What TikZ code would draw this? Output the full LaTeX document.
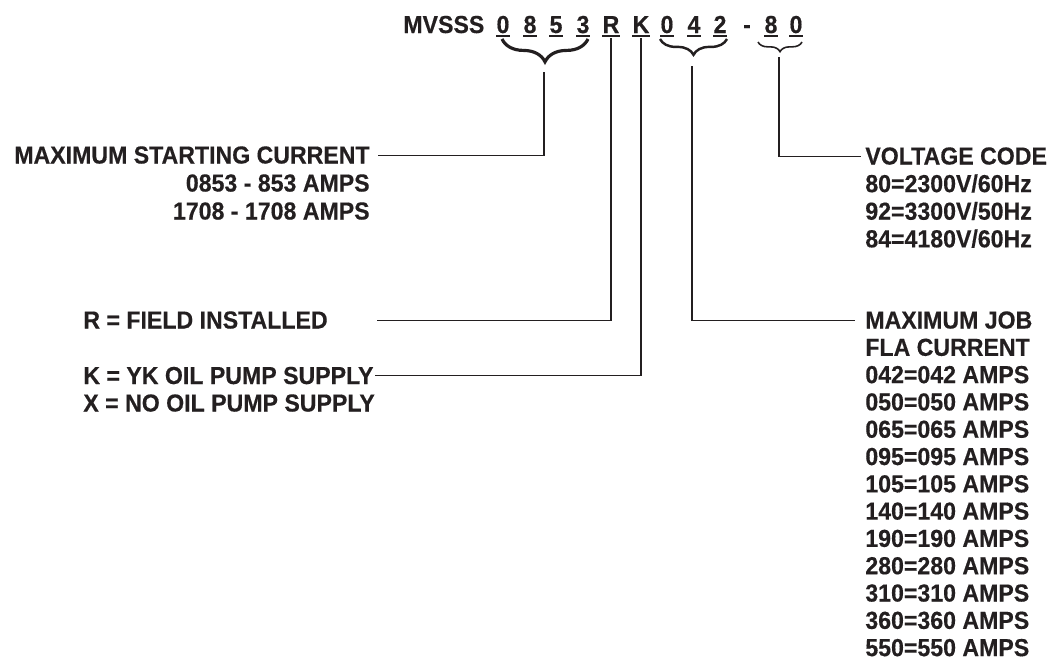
\documentclass[tikz,border=0pt]{standalone}
\usepackage{fontspec}
\setmainfont{Liberation Sans}[FakeStretch=0.94,BoldFeatures={FakeBold=0.4}]
\usetikzlibrary{decorations.pathreplacing}
\definecolor{ink}{HTML}{231F20}
\tikzstyle{lbl}=[inner sep=0pt,text=ink,font=\fontsize{14pt}{16pt}\selectfont\bfseries]
\tikzstyle{digit}=[lbl,anchor=base]
\tikzstyle{uline}=[draw=ink,line width=1.1pt]
\tikzstyle{conn}=[draw=ink,line width=0.6pt]
\tikzstyle{bigbrace}=[draw=ink,line width=1.8pt,decorate,decoration={brace,amplitude=13pt}]
\tikzstyle{midbrace}=[draw=ink,line width=1.4pt,decorate,decoration={brace,amplitude=9pt}]
\tikzstyle{smallbrace}=[draw=ink,line width=0.9pt,decorate,decoration={brace,amplitude=5.5pt}]

\begin{document}
\begin{tikzpicture}[x=0.02cm,y=-0.02cm]
    \useasboundingbox (0,0) rectangle (1050,660);
    % Model number, one node for each code character
    \node[digit,anchor=base west] (model) at (403,33) {MVSSS};
    \foreach \pos/\name/\ch in {503/d1/0, 530/d2/8, 556/d3/5, 583/d4/3, 611/dR/R, 641/dK/K, 667/d5/0, 694/d6/4, 720/d7/2, 771/d8/8, 796/d9/0}
    {
        \node[digit] (\name) at (\pos,33) {\ch};
        \draw[uline] ([yshift=-1.7pt]\name.base west) -- ([yshift=-1.7pt]\name.base east);
    }
    \node[digit] (dash) at (747,33) {-};

    % Braces under the grouped characters
    \draw[bigbrace] (588,39) -- (502,39);
    \draw[midbrace] (727,39) -- (660,39);
    \draw[smallbrace] (802,42) -- (758,42);
    \coordinate (t1) at (544,72);
    \coordinate (t2) at (692,66);
    \coordinate (t3) at (779,57);

    % Left hand labels
    \node[lbl,anchor=base east] (mscur) at (370,163.5) {MAXIMUM STARTING CURRENT};
    \foreach \t [count=\i] in {0853 - 853 AMPS, 1708 - 1708 AMPS}
        \node[lbl,anchor=base east] (mscur\i) at (370,163.5+28*\i) {\t};
    \node[lbl,anchor=base west] (field) at (83,328.5) {R = FIELD INSTALLED};
    \node[lbl,anchor=base west] (kpump) at (83,384) {K = YK OIL PUMP SUPPLY};
    \node[lbl,anchor=base west] (xpump) at (83,411.5) {X = NO OIL PUMP SUPPLY};

    % Right hand labels
    \node[lbl,anchor=base west] (volt) at (865,164.5) {VOLTAGE CODE};
    \foreach \t [count=\i] in {80=2300V/60Hz, 92=3300V/50Hz, 84=4180V/60Hz}
        \node[lbl,anchor=base west] (volt\i) at (865,164.5+27.6*\i) {\t};
    \node[lbl,anchor=base west] (job) at (865,328.5) {MAXIMUM JOB};
    \foreach \t [count=\i] in {FLA CURRENT, 042=042 AMPS, 050=050 AMPS, 065=065 AMPS, 095=095 AMPS, 105=105 AMPS, 140=140 AMPS, 190=190 AMPS, 280=280 AMPS, 310=310 AMPS, 360=360 AMPS, 550=550 AMPS}
        \node[lbl,anchor=base west] (job\i) at (865,328.5+27.3*\i) {\t};

    % Leader lines
    \draw[conn,shorten >=4.5pt] (t1) |- (mscur.east);
    \draw[conn,shorten <=2.8pt,shorten >=28pt] (dR.south) |- (field.east);
    \draw[conn,shorten <=2.8pt,shorten >=0.6pt] (dK.south) |- (kpump.east);
    \draw[conn,shorten >=5.6pt] (t2) |- (job.west);
    \draw[conn,shorten >=2.3pt] (t3) |- (volt.west);
\end{tikzpicture}
\end{document}
